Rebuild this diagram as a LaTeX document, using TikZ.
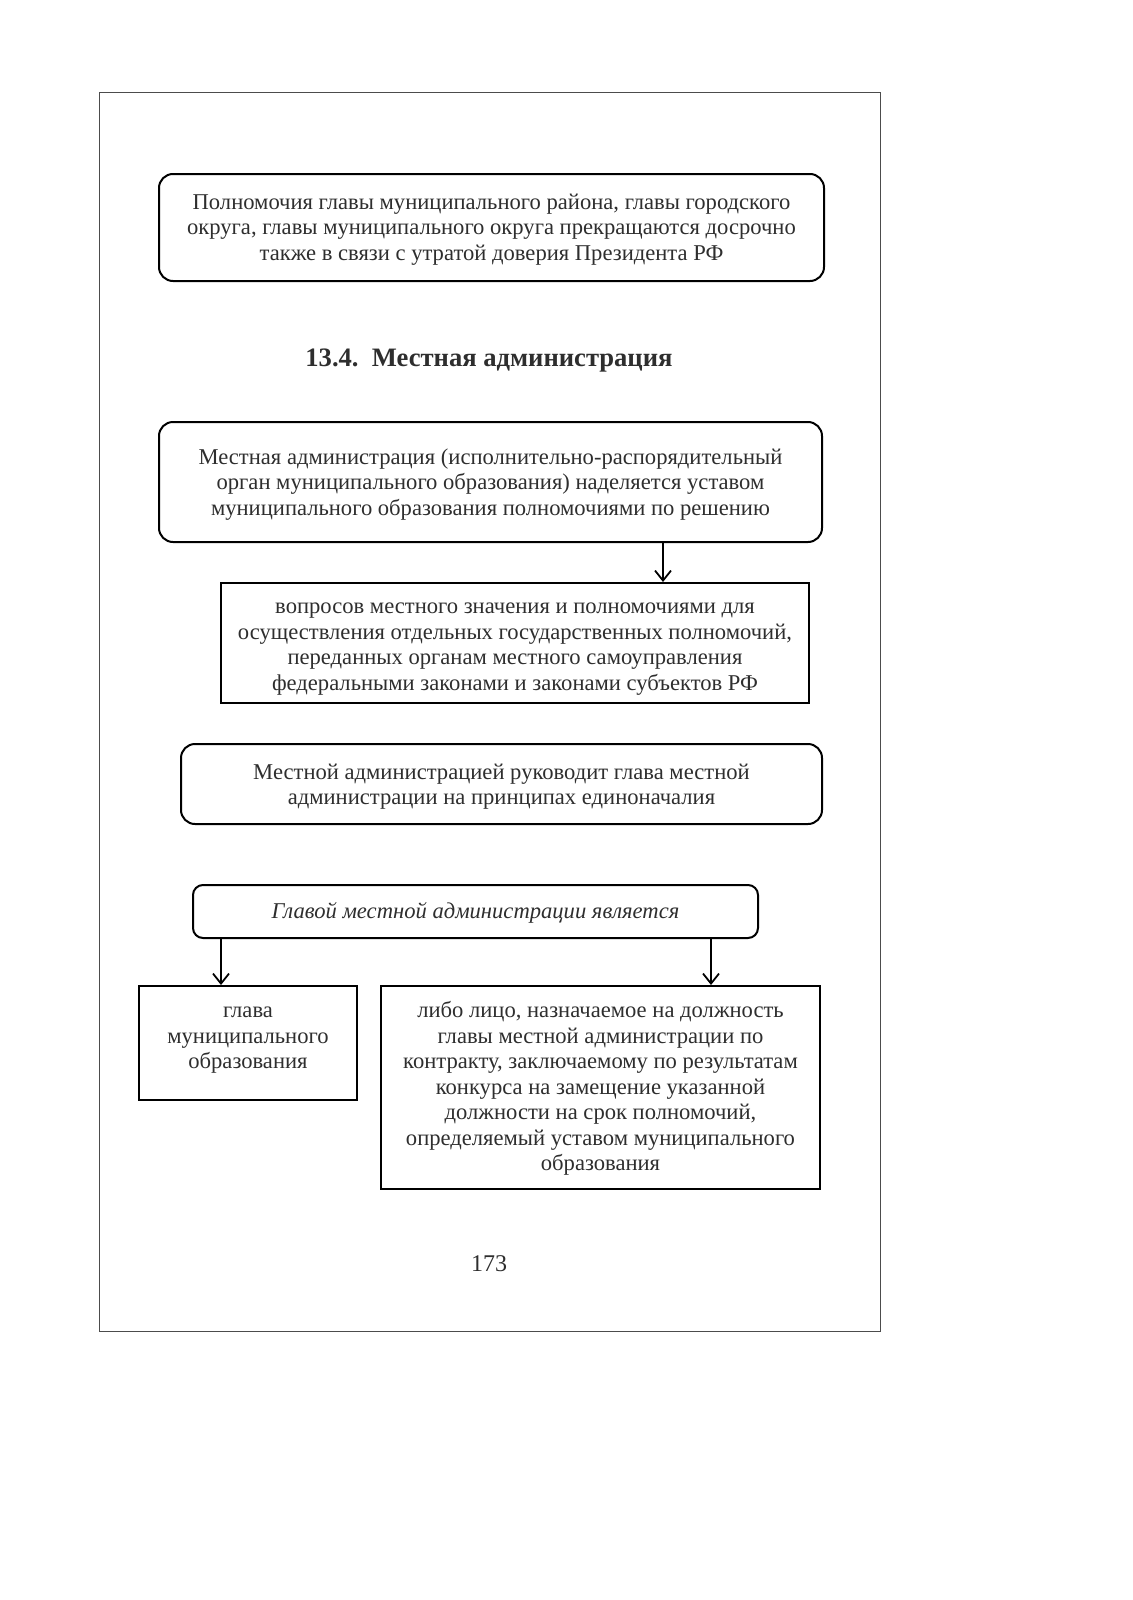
\documentclass[tikz,border=0pt]{standalone}
\usepackage{fontspec}
\setmainfont{Liberation Serif}
\usetikzlibrary{arrows.meta}
\newcommand{\bxtext}[4]{\parbox[c][#2][c]{#1}{\centering\vspace*{#3}#4}}
\begin{document}
\begin{tikzpicture}[x=0.5pt,y=-0.5pt,
  txt/.style={text=black!82, font=\fontsize{11.3}{12.75}\selectfont},
  rbox/.style={txt, draw=black, line width=1pt, rounded corners=7pt, inner sep=0pt},
  sbox/.style={txt, draw=black, line width=1pt, inner sep=0pt},
  arr/.style={line width=0.9pt, -{Straight Barb[length=5pt,width=8pt]}}]
\useasboundingbox (0,0) rectangle (1132,1600);
\node[draw=black!70, line width=0.5pt, minimum width=390.5pt, minimum height=619pt, inner sep=0pt] (frame) at (489.5,712) {};
\node[rbox] (b1) at (491.5,227.5)
  {\bxtext{332.5pt}{53.5pt}{2pt}{Полномочия главы муниципального района, главы городского\\округа, главы муниципального округа прекращаются досрочно\\также в связи с утратой доверия Президента РФ}};
\node[text=black!82, font=\fontsize{13.3}{15}\selectfont\bfseries] (title) at (489,361) {13.4.\ \ Местная администрация};
\node[rbox] (b2) at (490.5,482)
  {\bxtext{331.5pt}{60pt}{2.5pt}{Местная администрация (исполнительно-распорядительный\\орган муниципального образования) наделяется уставом\\муниципального образования полномочиями по решению}};
\node[sbox] (b3) at (515,643)
  {\bxtext{294pt}{60pt}{6pt}{вопросов местного значения и полномочиями для\\осуществления отдельных государственных полномочий,\\переданных органам местного самоуправления\\федеральными законами и законами субъектов РФ}};
\node[rbox] (b4) at (501.5,784)
  {\bxtext{320.5pt}{40pt}{2.5pt}{Местной администрацией руководит глава местной\\администрации на принципах единоначалия}};
\node[rbox, rounded corners=5pt, font=\fontsize{11.3}{12.75}\selectfont\itshape] (b5) at (475.5,911.5)
  {\bxtext{282.5pt}{26.5pt}{1pt}{Главой местной администрации является}};
\node[sbox] (b6) at (248,1043)
  {\parbox[c][57pt][t]{109pt}{\centering\vspace*{7pt}\strut глава\\муниципального\\образования}};
\node[sbox] (b7) at (600.5,1087.5)
  {\bxtext{219.5pt}{101.5pt}{1pt}{либо лицо, назначаемое на должность\\главы местной администрации по\\контракту, заключаемому по результатам\\конкурса на замещение указанной\\должности на срок полномочий,\\определяемый уставом муниципального\\образования}};
\node[txt, font=\fontsize{12}{14}\selectfont] (page) at (489,1264) {173};
\coordinate (c1) at (663,0);
\coordinate (c2) at (221,0);
\coordinate (c3) at (711,0);
\draw[arr] (b2.south -| c1) -- (b3.north -| c1);
\draw[arr] (b5.south -| c2) -- (b6.north -| c2);
\draw[arr] (b5.south -| c3) -- (b7.north -| c3);
\end{tikzpicture}
\end{document}
